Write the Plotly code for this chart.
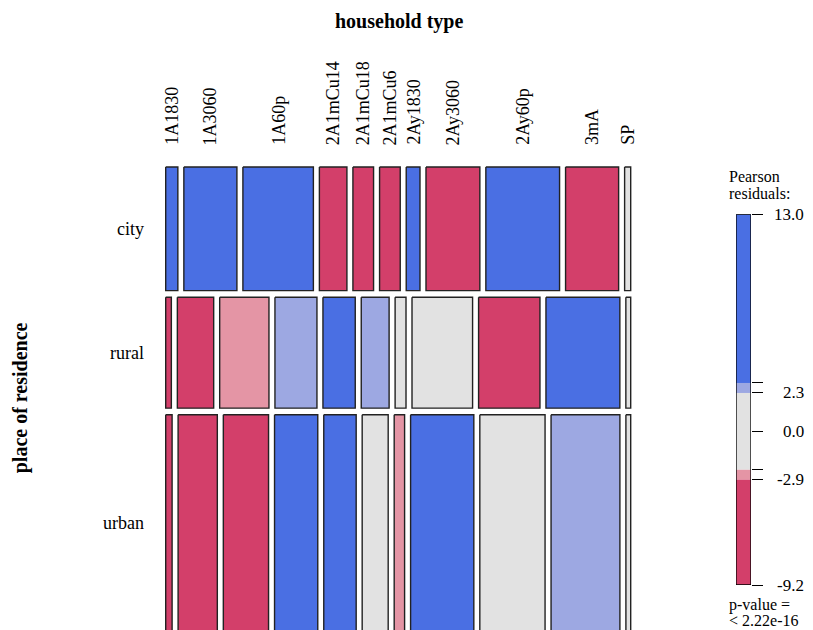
import plotly.graph_objects as go

# household types (columns) and place of residence (rows)
household = ["1A1830", "1A3060", "1A60p", "2A1mCu14", "2A1mCu18", "2A1mCu6",
             "2Ay1830", "2Ay3060", "2Ay60p", "3mA", "SP"]
residence = ["city", "rural", "urban"]

# share of each place of residence (%)
residence_pct = [27.4, 24.6, 48.0]

# household type shares within each place of residence (%)
city_pct = [3.0, 13.1, 17.4, 6.8, 5.1, 5.1, 3.4, 13.3, 18.2, 13.1, 1.5]
rural_pct = [1.4, 9.0, 12.2, 10.4, 8.0, 6.9, 2.7, 15.0, 15.2, 18.3, 1.2]
urban_pct = [1.6, 9.8, 11.3, 10.8, 8.1, 6.5, 2.6, 15.8, 16.3, 17.2, 1.2]

# Pearson residuals of the independence model
city_res = [4.1, 10.5, 13.0, -6.8, -5.9, -3.7, 3.6, -4.4, 5.2, -9.2, 0.4]
rural_res = [-3.5, -4.8, -2.6, 2.6, 3.4, 2.5, -0.8, 1.2, -4.0, 5.8, -0.3]
urban_res = [-3.1, -6.2, -8.4, 4.3, 3.2, 1.6, -2.4, 3.3, 0.9, 2.7, 0.1]

# legend
res_range = [-9.2, 13.0]
res_breaks = [2.3, 2.9]
legend_labels = [13.0, 2.3, 0.0, -2.9, -9.2]
p_value_text = "&lt; 2.22e-16"

row_pct = [city_pct, rural_pct, urban_pct]
row_res = [city_res, rural_res, urban_res]

BLUE, LBLUE, GREY, LRED, RED = "#4A6FE3", "#9DA8E2", "#E2E2E2", "#E495A5", "#D33F6A"
FONT = "Liberation Serif"
W, H = 813, 630


def shade(r):
    lo, hi = res_breaks
    if r > hi:
        return BLUE
    if r > lo:
        return LBLUE
    if r < -hi:
        return RED
    if r < -lo:
        return LRED
    return GREY


gap_x = 0.0148
gap_y = 0.0146

fig = go.Figure()

y0 = 0.0
tot_r = sum(residence_pct)
row_centers = []
for i, name in enumerate(residence):
    h = residence_pct[i] / tot_r
    y1 = y0 + h
    row_centers.append((y0 + y1) / 2)
    tot = sum(row_pct[i])
    x0 = 0.0
    for j, hh in enumerate(household):
        w = row_pct[i][j] / tot
        x1 = x0 + w
        fig.add_trace(go.Scatter(
            x=[x0, x1, x1, x0, x0], y=[y0, y0, y1, y1, y0],
            mode="lines", fill="toself", fillcolor=shade(row_res[i][j]),
            line=dict(color="#222222", width=1.4),
            name=f"{name} / {hh}", hoverinfo="text",
            text=f"{name} / {hh}<br>residual: {row_res[i][j]}",
            showlegend=False))
        if i == 0:
            fig.add_annotation(x=(x0 + x1) / 2, xref="x", y=1 - 147 / H, yref="paper",
                               text=hh, textangle=-90, showarrow=False,
                               xanchor="center", yanchor="bottom",
                               font=dict(family=FONT, size=18, color="black"))
        x0 = x1 + gap_x
    y0 = y1 + gap_y

# mosaic axes mapping
kx = (1 + 10 * gap_x) / 465.0
ky = (1 + 2 * gap_y) / 464.3
fig.update_layout(
    xaxis=dict(domain=[160 / W, 640 / W], range=[-5.7 * kx, (640 - 165.7) * kx],
               visible=False, fixedrange=True),
    yaxis=dict(domain=[0, 470 / H], range=[463 * ky, -7 * ky],
               visible=False, fixedrange=True),
)

for name, yc in zip(residence, row_centers):
    fig.add_annotation(x=146 / W, xref="paper", y=yc, yref="y", text=name,
                       showarrow=False, xanchor="right", yanchor="middle",
                       font=dict(family=FONT, size=18, color="black"))

fig.add_annotation(x=398.7 / W, xref="paper", y=1 - 21.7 / H, yref="paper",
                   text="<b>household type</b>", showarrow=False,
                   xanchor="center", yanchor="middle",
                   font=dict(family=FONT, size=20, color="black"))
fig.add_annotation(x=20 / W, xref="paper", y=1 - 398.3 / H, yref="paper",
                   text="<b>place of residence</b>", textangle=-90, showarrow=False,
                   xanchor="center", yanchor="middle",
                   font=dict(family=FONT, size=20, color="black"))

# legend bar
lo, hi = res_breaks
bands = [(hi, res_range[1], BLUE), (lo, hi, LBLUE), (-lo, lo, GREY),
         (-hi, -lo, LRED), (res_range[0], -hi, RED)]
for b0, b1, col in bands:
    fig.add_trace(go.Scatter(
        x=[0, 1, 1, 0, 0], y=[b0, b0, b1, b1, b0], xaxis="x2", yaxis="y2",
        mode="lines", fill="toself", fillcolor=col, line=dict(width=0),
        hoverinfo="skip", showlegend=False))
fig.add_shape(type="rect", xref="x2", yref="y2", x0=0, x1=1,
              y0=res_range[0], y1=res_range[1], line=dict(color="black", width=1.3))

tickvals = [res_range[1], hi, lo, 0.0, -lo, -hi, res_range[0]]
fig.update_layout(
    xaxis2=dict(domain=[736 / W, 751 / W], range=[0, 1], visible=False,
                anchor="y2", fixedrange=True),
    yaxis2=dict(domain=[1 - 585 / H, 1 - 214.3 / H], range=res_range,
                anchor="x2", side="right", ticks="outside", ticklen=11,
                tickwidth=1.3, tickcolor="black", tickvals=tickvals,
                showticklabels=False, showgrid=False, zeroline=False,
                showline=False, fixedrange=True),
)
for v in legend_labels:
    fig.add_annotation(x=806 / W, xref="paper", y=v, yref="y2", text=f"{v:.1f}",
                       showarrow=False, xanchor="right", yanchor="middle",
                       font=dict(family=FONT, size=17, color="black"))

for txt, ypx in [("Pearson", 176), ("residuals:", 193), ("p-value =", 605),
                 (p_value_text, 620)]:
    fig.add_annotation(x=727 / W, xref="paper", y=1 - ypx / H, yref="paper",
                       text=txt, showarrow=False, xanchor="left", yanchor="middle",
                       font=dict(family=FONT, size=16, color="black"))

fig.update_layout(
    width=W, height=H,
    margin=dict(l=0, r=0, t=0, b=0),
    paper_bgcolor="white", plot_bgcolor="white",
    showlegend=False,
)

# drop the page's default body margin so the figure sits at the window corner
fig.write_html("out.html", config={"displayModeBar": False},
               post_script="document.body.style.margin='0';")
